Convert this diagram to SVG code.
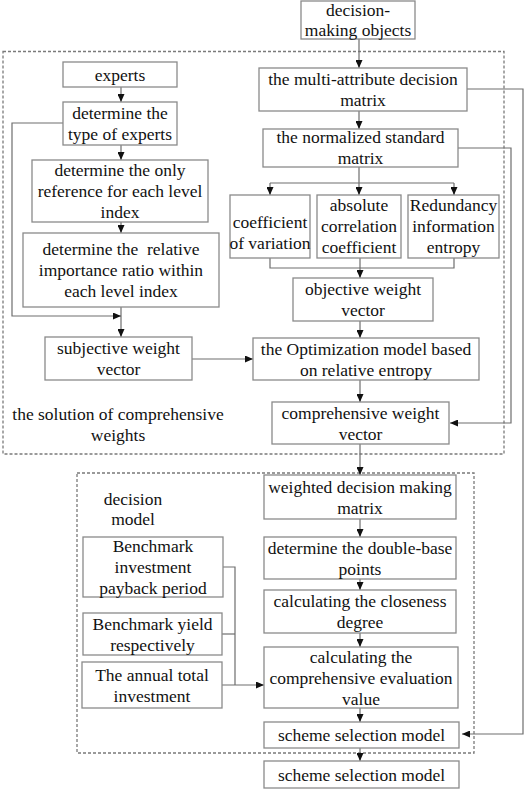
<svg xmlns="http://www.w3.org/2000/svg" width="526" height="791" viewBox="0 0 526 791">
<style>
.box{fill:#fff;stroke:#8a8a8a;stroke-width:1.3}
.dash{fill:none;stroke:#7a7a7a;stroke-width:1.3;stroke-dasharray:3 2}
.ln{fill:none;stroke:#6e6e6e;stroke-width:1.2}
text{font-family:'Liberation Serif','Times New Roman',Times,'DejaVu Serif','Noto Serif',serif;font-size:17.5px;fill:#111;text-anchor:middle}
</style>
<defs>
<marker id="ah" markerUnits="userSpaceOnUse" markerWidth="8" markerHeight="7" refX="8" refY="3.5" orient="auto">
<path d="M0,0 L8,3.5 L0,7 z" fill="#111"/>
</marker>
</defs>
<rect width="526" height="791" fill="#fff"/>
<g id="groups">
<rect class="dash" x="3" y="51.5" width="501" height="402.5"/>
<rect class="dash" x="77" y="473" width="397" height="280"/>
</g>
<g id="connectors">
<path class="ln" d="M359 39 V68" marker-end="url(#ah)"/>
<path class="ln" d="M359 111 V129" marker-end="url(#ah)"/>
<path class="ln" d="M359 167 V195" marker-end="url(#ah)"/>
<path class="ln" d="M270 183 H454"/>
<path class="ln" d="M270 183 V195" marker-end="url(#ah)"/>
<path class="ln" d="M454 183 V195" marker-end="url(#ah)"/>
<path class="ln" d="M270 258 V268 H454 V258"/>
<path class="ln" d="M360 258 V278" marker-end="url(#ah)"/>
<path class="ln" d="M360 321 V338" marker-end="url(#ah)"/>
<path class="ln" d="M360 380 V402" marker-end="url(#ah)"/>
<path class="ln" d="M360 444 V475" marker-end="url(#ah)"/>
<path class="ln" d="M360 519 V537" marker-end="url(#ah)"/>
<path class="ln" d="M360 579 V590" marker-end="url(#ah)"/>
<path class="ln" d="M360 633 V647" marker-end="url(#ah)"/>
<path class="ln" d="M360 708 V722" marker-end="url(#ah)"/>
<path class="ln" d="M360 748 V761" marker-end="url(#ah)"/>
<path class="ln" d="M467 89 H523 V734 H462" marker-end="url(#ah)"/>
<path class="ln" d="M458 148 H511 V423 H450" marker-end="url(#ah)"/>
<path class="ln" d="M121 87 V102" marker-end="url(#ah)"/>
<path class="ln" d="M121 145 V160" marker-end="url(#ah)"/>
<path class="ln" d="M121 222 V233" marker-end="url(#ah)"/>
<path class="ln" d="M121 307 V337" marker-end="url(#ah)"/>
<path class="ln" d="M63 123 H12 V316 H121" marker-end="url(#ah)"/>
<path class="ln" d="M192 359 H253" marker-end="url(#ah)"/>
<path class="ln" d="M223 567 H235 V685"/>
<path class="ln" d="M222 634 H235"/>
<path class="ln" d="M222 685 H264" marker-end="url(#ah)"/>
</g>
<g id="dmo"><rect class="box" x="301" y="1" width="114" height="38"/><text x="358" y="15.5">decision-</text><text x="358" y="36">making objects</text></g>
<g id="mam"><rect class="box" x="259" y="68" width="208" height="43"/><text x="363" y="85">the multi-attribute decision</text><text x="363" y="106">matrix</text></g>
<g id="nsm"><rect class="box" x="263" y="129" width="195" height="38"/><text x="360.5" y="143">the normalized standard</text><text x="360.5" y="164">matrix</text></g>
<g id="cov"><rect class="box" x="230" y="195" width="80" height="63"/><text x="270" y="228">coefficient</text><text x="270" y="249">of variation</text></g>
<g id="acc"><rect class="box" x="317" y="195" width="84" height="63"/><text x="359" y="211">absolute</text><text x="359" y="232">correlation</text><text x="359" y="253">coefficient</text></g>
<g id="rie"><rect class="box" x="408" y="195" width="91" height="63"/><text x="453.5" y="211">Redundancy</text><text x="453.5" y="232">information</text><text x="453.5" y="253">entropy</text></g>
<g id="owv"><rect class="box" x="293" y="278" width="140" height="43"/><text x="363" y="295">objective weight</text><text x="363" y="316">vector</text></g>
<g id="opt"><rect class="box" x="253" y="338" width="226" height="42"/><text x="366" y="354.5">the Optimization model based</text><text x="366" y="375.5">on relative entropy</text></g>
<g id="cwv"><rect class="box" x="272" y="402" width="177" height="42"/><text x="360.5" y="418.5">comprehensive weight</text><text x="360.5" y="439.5">vector</text></g>
<g id="experts"><rect class="box" x="63" y="62" width="114" height="25"/><text x="120" y="80.5">experts</text></g>
<g id="type"><rect class="box" x="63" y="102" width="114" height="43"/><text x="120" y="119">determine the</text><text x="120" y="140">type of experts</text></g>
<g id="onlyref"><rect class="box" x="32" y="160" width="176" height="62"/><text x="120" y="176">determine the only</text><text x="120" y="197">reference for each level</text><text x="120" y="218">index</text></g>
<g id="relative"><rect class="box" x="23" y="233" width="196" height="74"/><text x="121" y="255" xml:space="preserve">determine the  relative</text><text x="121" y="276">importance ratio within</text><text x="121" y="297">each level index</text></g>
<g id="subj"><rect class="box" x="45" y="337" width="147" height="43"/><text x="118.5" y="354">subjective weight</text><text x="118.5" y="375">vector</text></g>
<g id="solution-label"><text x="118" y="420">the solution of comprehensive</text><text x="118" y="441">weights</text></g>
<g id="wdm"><rect class="box" x="264" y="475" width="192" height="44"/><text x="360" y="492.5">weighted decision making</text><text x="360" y="513.5">matrix</text></g>
<g id="dbp"><rect class="box" x="264" y="537" width="192" height="42"/><text x="360" y="553.5">determine the double-base</text><text x="360" y="574.5">points</text></g>
<g id="cd"><rect class="box" x="264" y="590" width="192" height="43"/><text x="360" y="607">calculating the closeness</text><text x="360" y="628">degree</text></g>
<g id="cev"><rect class="box" x="264" y="647" width="194" height="61"/><text x="361" y="663">calculating the</text><text x="361" y="684">comprehensive evaluation</text><text x="361" y="705">value</text></g>
<g id="ssm1"><rect class="box" x="264" y="722" width="195" height="26"/><text x="361.5" y="741">scheme selection model</text></g>
<g id="ssm2"><rect class="box" x="264" y="761" width="195" height="27"/><text x="361.5" y="780.5">scheme selection model</text></g>
<g id="decision-label"><text x="133" y="505">decision</text><text x="133" y="525">model</text></g>
<g id="bip"><rect class="box" x="83" y="537" width="140" height="60"/><text x="153" y="552">Benchmark</text><text x="153" y="573">investment</text><text x="153" y="594">payback period</text></g>
<g id="by"><rect class="box" x="83" y="613" width="139" height="42"/><text x="152.5" y="629.5">Benchmark yield</text><text x="152.5" y="650.5">respectively</text></g>
<g id="ati"><rect class="box" x="82" y="662" width="140" height="46"/><text x="152" y="680.5">The annual total</text><text x="152" y="701.5">investment</text></g>
</svg>
